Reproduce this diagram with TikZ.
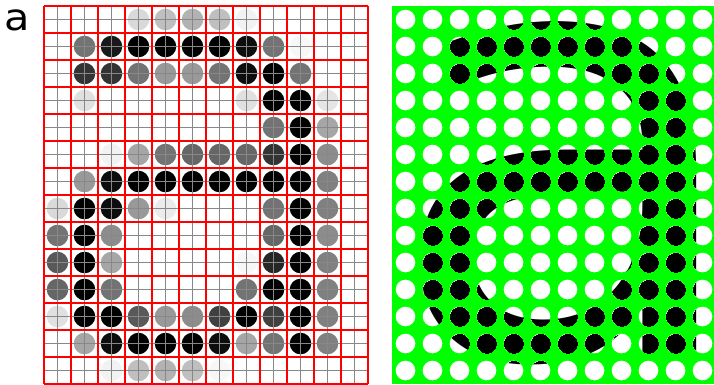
\documentclass[tikz,border=0pt]{standalone}
\usepackage{fontspec}
\newfontfamily\dejavu{DejaVu Sans}
\definecolor{grn}{RGB}{0,255,0}
\definecolor{redline}{RGB}{255,0,0}
\definecolor{grayline}{RGB}{136,136,136}
\begin{document}
\begin{tikzpicture}[x=1pt,y=-1pt,
  redgrid/.style={draw=redline,line width=1.5pt},
  graygrid/.style={draw=grayline,line width=1.4pt},
  leftdot/.style={radius=10.8pt},
  rightdot/.style={radius=9.8pt}]
\useasboundingbox (0,0) rectangle (714,384);
\fill[white] (0,0) rectangle (714,384);
% label
\node[anchor=base west,inner sep=0,xscale=1.12] (label) at (4.7,30.8) {\dejavu\fontsize{37}{40}\selectfont a};
% left: sampled gray dots
\foreach \c/\r/\g in {3/0/15,4/0/25,5/0/30,6/0/25,7/0/5,
  1/1/55,2/1/90,3/1/100,4/1/100,5/1/100,6/1/100,7/1/95,8/1/55,9/1/3,
  1/2/80,2/2/80,3/2/55,4/2/40,5/2/40,6/2/55,7/2/95,8/2/100,9/2/55,
  1/3/12,7/3/12,8/3/100,9/3/100,10/3/10,
  8/4/55,9/4/100,10/4/35,
  2/5/5,3/5/35,4/5/55,5/5/60,6/5/60,7/5/60,8/5/80,9/5/100,10/5/45,
  1/6/40,2/6/95,3/6/100,4/6/100,5/6/100,6/6/100,7/6/100,8/6/100,9/6/100,10/6/50,
  0/7/15,1/7/100,2/7/95,3/7/40,4/7/8,8/7/55,9/7/100,10/7/50,
  0/8/55,1/8/100,2/8/45,8/8/60,9/8/100,10/8/45,
  0/9/65,1/9/100,2/9/35,7/9/3,8/9/85,9/9/100,10/9/50,
  0/10/60,1/10/100,2/10/55,7/10/55,8/10/100,9/10/100,10/10/50,
  0/11/12,1/11/100,2/11/100,3/11/65,4/11/40,5/11/45,6/11/75,7/11/100,8/11/75,9/11/100,10/11/50,
  1/12/35,2/12/95,3/12/100,4/12/100,5/12/100,6/12/95,7/12/35,8/12/55,9/12/100,10/12/50,
  2/13/5,3/13/25,4/13/30,5/13/25,6/13/3}
  \fill[black!\g] ({57.5+27*\c},{19.5+27*\r}) circle[leftdot];
% gray sub-grid
\foreach \k in {0,...,11} \draw[graygrid] ({57.5+27*\k},6) -- ({57.5+27*\k},384);
\foreach \k in {0,...,13} \draw[graygrid] (44,{19.5+27*\k}) -- (368,{19.5+27*\k});
% red pixel grid
\foreach \k in {0,...,12} \draw[redgrid] ({44+27*\k},6) -- ({44+27*\k},384);
\foreach \k in {0,...,14} \draw[redgrid] (44,{6+27*\k}) -- (368,{6+27*\k});
% right panel
\fill[grn] (392,6) rectangle (716,384);
\foreach \c in {0,...,11} \foreach \r in {0,...,13}
  \fill[white] ({405.5+27*\c},{19.5+27*\r}) circle[rightdot];
\begin{scope}
\clip \foreach \c in {0,...,11} {\foreach \r in {0,...,13} {({405.5+27*\c},{19.5+27*\r}) circle[rightdot]}};
\node[anchor=base west,inner sep=0] (glyph) at (384.1,356.9) {\dejavu\fontsize{598}{600}\selectfont a};
\end{scope}
\end{tikzpicture}
\end{document}
